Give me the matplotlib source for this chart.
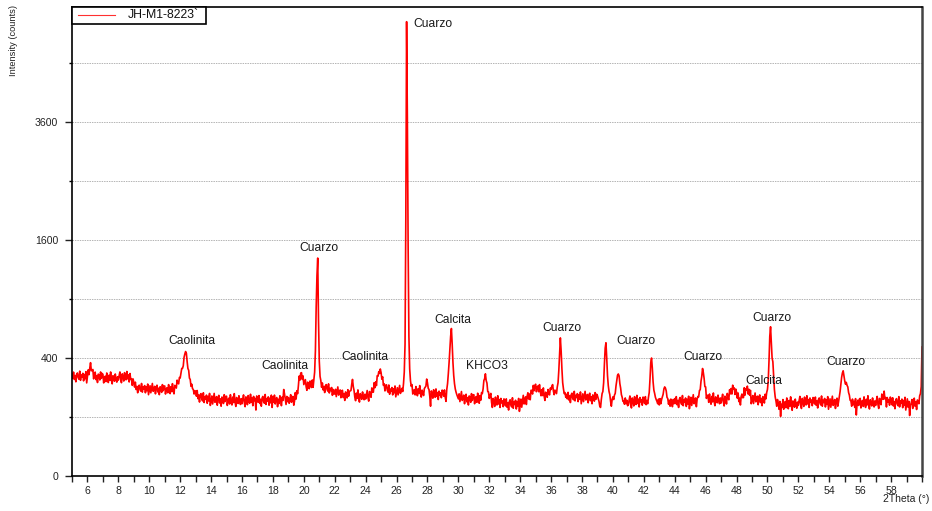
import numpy as np
import matplotlib
matplotlib.use("Agg")
import matplotlib.pyplot as plt
from matplotlib.lines import Line2D
from matplotlib.patches import Rectangle
from matplotlib.ticker import FixedLocator, MultipleLocator

plt.rcParams['font.family'] = ['Liberation Sans', 'DejaVu Sans']

# Diffractogram: counts sampled every 0.05 deg 2Theta starting at 5.00 deg
start_2theta = 5.0
step_2theta = 0.05
counts = [
    299, 274, 310, 268, 290, 255, 297, 305, 278, 269, 316, 263, 293, 281, 303, 260, 296, 272, 313, 249,  # 5
    287, 324, 295, 334, 369, 318, 320, 326, 271, 302, 310, 267, 289, 251, 298, 292, 265, 311, 274, 302,  # 6
    297, 249, 277, 286, 256, 305, 269, 251, 292, 263, 311, 265, 244, 289, 276, 258, 299, 270, 253, 283,  # 7
    264, 289, 311, 269, 250, 300, 286, 259, 307, 275, 266, 314, 271, 294, 254, 302, 268, 272, 236, 271,  # 8
    252, 227, 253, 215, 230, 199, 232, 237, 214, 207, 246, 202, 227, 217, 235, 199, 229, 209, 243, 190,  # 9
    211, 234, 199, 223, 246, 206, 216, 231, 194, 226, 237, 203, 221, 190, 229, 224, 201, 240, 209, 232,  # 10
    233, 193, 217, 224, 199, 240, 210, 195, 229, 205, 245, 207, 194, 236, 231, 222, 264, 248, 244, 279,  # 11
    276, 304, 332, 333, 349, 404, 427, 445, 433, 376, 332, 321, 275, 268, 231, 242, 219, 215, 193, 209,  # 12
    207, 183, 210, 172, 188, 157, 190, 195, 170, 162, 199, 155, 180, 170, 188, 152, 182, 162, 196, 143,  # 13
    161, 184, 149, 173, 196, 156, 166, 181, 144, 176, 187, 153, 171, 140, 179, 174, 151, 190, 159, 182,  # 14
    183, 143, 167, 174, 149, 190, 160, 145, 179, 155, 195, 157, 139, 177, 166, 151, 185, 161, 147, 172,  # 15
    150, 171, 189, 154, 138, 180, 168, 146, 186, 159, 152, 192, 156, 175, 142, 182, 163, 173, 125, 184,  # 16
    177, 156, 186, 151, 169, 140, 175, 182, 159, 152, 191, 147, 172, 162, 180, 144, 174, 154, 188, 135,  # 17
    180, 157, 188, 149, 172, 177, 138, 169, 151, 185, 174, 142, 179, 164, 215, 194, 171, 147, 182, 159,  # 18
    177, 152, 166, 190, 156, 171, 182, 144, 162, 200, 170, 209, 195, 235, 287, 264, 304, 307, 268, 288,  # 19
    240, 254, 267, 229, 211, 253, 241, 219, 259, 232, 225, 265, 226, 265, 310, 450, 820, 1150, 1365, 700,  # 20
    380, 285, 262, 226, 249, 213, 230, 200, 234, 240, 216, 207, 244, 198, 221, 209, 225, 187, 215, 194,  # 21
    193, 216, 181, 205, 228, 188, 198, 213, 176, 208, 211, 177, 195, 164, 203, 198, 175, 214, 183, 206,  # 22
    208, 210, 242, 268, 230, 210, 178, 163, 197, 173, 213, 175, 157, 195, 184, 169, 203, 179, 167, 192,  # 23
    170, 191, 210, 176, 161, 205, 196, 178, 223, 202, 202, 250, 224, 255, 235, 289, 286, 313, 302, 329,  # 24
    307, 269, 283, 236, 244, 208, 237, 239, 212, 202, 238, 192, 217, 207, 225, 189, 219, 199, 233, 180,  # 25
    201, 224, 189, 213, 236, 196, 206, 221, 205, 245, 310, 500, 1900, 5930, 3700, 1500, 560, 330, 262, 231,  # 26
    240, 193, 207, 214, 189, 230, 200, 185, 219, 195, 235, 197, 179, 212, 201, 186, 220, 226, 232, 270,  # 27
    250, 221, 215, 183, 140, 208, 196, 174, 214, 187, 178, 218, 182, 200, 168, 207, 188, 199, 176, 212,  # 28
    204, 183, 213, 178, 160, 215, 245, 300, 370, 460, 560, 625, 500, 370, 290, 245, 218, 202, 190, 181,  # 29
    171, 194, 159, 182, 205, 164, 173, 188, 150, 182, 192, 158, 176, 145, 184, 179, 156, 195, 164, 187,  # 30
    190, 150, 174, 181, 156, 197, 167, 152, 186, 165, 200, 195, 218, 262, 272, 300, 262, 248, 205, 203,  # 31
    173, 186, 196, 155, 135, 173, 161, 139, 179, 152, 145, 185, 149, 168, 135, 173, 154, 162, 138, 171,  # 32
    162, 141, 171, 136, 154, 125, 160, 167, 144, 137, 176, 132, 157, 147, 165, 129, 159, 139, 173, 120,  # 33
    146, 170, 136, 162, 187, 149, 162, 180, 147, 183, 199, 170, 193, 167, 211, 211, 193, 236, 209, 235,  # 34
    242, 204, 228, 233, 204, 240, 205, 185, 214, 186, 223, 183, 164, 202, 191, 178, 215, 196, 189, 222,  # 35
    215, 232, 240, 207, 190, 212, 203, 195, 228, 250, 320, 420, 548, 450, 330, 250, 218, 195, 200, 178,  # 36
    192, 171, 201, 166, 184, 155, 190, 197, 174, 167, 206, 162, 187, 177, 195, 159, 189, 169, 203, 150,  # 37
    171, 194, 159, 183, 206, 166, 176, 191, 154, 186, 197, 163, 181, 150, 189, 184, 161, 200, 169, 192,  # 38
    185, 172, 160, 140, 135, 168, 195, 205, 250, 360, 470, 510, 400, 290, 235, 205, 190, 160, 140, 168,  # 39
    180, 168, 188, 196, 233, 262, 292, 299, 288, 245, 222, 190, 178, 160, 160, 148, 175, 150, 165, 142,  # 40
    145, 166, 184, 149, 133, 175, 163, 141, 181, 154, 147, 187, 151, 170, 137, 177, 158, 168, 144, 179,  # 41
    172, 151, 181, 146, 164, 150, 178, 200, 270, 370, 400, 335, 255, 212, 196, 178, 168, 160, 150, 170,  # 42
    145, 172, 150, 168, 180, 192, 218, 228, 222, 208, 178, 172, 148, 165, 140, 170, 156, 138, 168, 150,  # 43
    172, 151, 181, 146, 164, 135, 170, 177, 154, 147, 186, 142, 167, 157, 175, 139, 169, 149, 183, 130,  # 44
    155, 178, 143, 167, 190, 150, 160, 175, 138, 170, 182, 180, 210, 214, 258, 285, 332, 308, 275, 230,  # 45
    228, 173, 187, 187, 156, 193, 163, 148, 182, 158, 198, 160, 142, 180, 169, 154, 188, 164, 150, 175,  # 46
    153, 174, 192, 157, 141, 183, 171, 149, 196, 174, 167, 214, 194, 220, 193, 237, 218, 223, 191, 217,  # 47
    202, 174, 198, 159, 174, 145, 182, 193, 176, 177, 224, 188, 219, 213, 232, 193, 216, 187, 211, 150,  # 48
    163, 186, 151, 175, 198, 158, 168, 183, 146, 178, 189, 155, 173, 142, 181, 176, 153, 192, 171, 200,  # 49
    215, 260, 380, 560, 640, 520, 400, 375, 285, 215, 180, 162, 140, 168, 150, 128, 160, 102, 148, 135,  # 50
    168, 128, 152, 159, 134, 175, 145, 130, 164, 140, 180, 142, 124, 162, 151, 136, 170, 146, 132, 157,  # 51
    143, 164, 182, 147, 131, 173, 161, 139, 179, 152, 145, 185, 149, 168, 135, 175, 156, 166, 142, 177,  # 52
    170, 149, 179, 144, 162, 133, 168, 175, 152, 145, 184, 140, 165, 155, 173, 137, 167, 147, 181, 128,  # 53
    148, 171, 136, 160, 183, 143, 153, 168, 131, 163, 174, 140, 158, 180, 205, 240, 280, 305, 318, 290,  # 54
    260, 242, 252, 236, 228, 200, 188, 165, 162, 140, 170, 146, 160, 135, 172, 107, 150, 165, 143, 170,  # 55
    173, 133, 157, 164, 139, 180, 150, 135, 169, 145, 185, 147, 129, 167, 156, 141, 175, 151, 137, 162,  # 56
    143, 164, 182, 147, 131, 173, 161, 146, 193, 172, 169, 207, 171, 177, 137, 177, 158, 168, 144, 179,  # 57
    167, 146, 176, 141, 159, 130, 165, 172, 149, 142, 181, 137, 162, 152, 170, 134, 164, 144, 178, 125,  # 58
    148, 171, 136, 160, 105, 143, 153, 168, 131, 163, 174, 140, 158, 127, 166, 161, 150, 185, 195, 230,  # 59
    478,  # 60
]

# Phase identification labels
peak_names = ["Caolinita", "Caolinita", "Cuarzo", "Caolinita", "Cuarzo", "Calcita", "KHCO3",
              "Cuarzo", "Cuarzo", "Cuarzo", "Calcita", "Cuarzo", "Cuarzo"]
peak_label_2theta = [12.77, 18.76, 20.99, 23.97, 28.38, 29.64, 31.87,
                     36.73, 41.52, 45.80, 49.78, 50.27, 55.06]
peak_label_counts = [523, 348, 1493, 407, 5869, 699, 348,
                     629, 523, 407, 259, 717, 373]

y_major_ticks = [0, 400, 1600, 3600]
y_minor_ticks = [100, 900, 2500, 4900]
sample_name = "JH-M1-8223`"

two_theta = start_2theta + step_2theta * np.arange(len(counts))

W, H = 932, 511
fig = plt.figure(figsize=(W / 100, H / 100), dpi=100)
ax = fig.add_axes([72 / W, 1 - 476 / H, 850 / W, 469 / H])


def fwd(v):
    return np.sqrt(np.clip(v, 0, None))


def inv(v):
    return np.asarray(v) ** 2


ax.set_yscale('function', functions=(fwd, inv))
ax.plot(two_theta, counts, color='#ff0000', lw=1.2)

ax.set_xlim(5, 60)
ax.set_ylim(0, 6320)

ax.yaxis.set_major_locator(FixedLocator(y_major_ticks))
ax.yaxis.set_minor_locator(FixedLocator(y_minor_ticks))
ax.set_yticklabels([str(t) for t in y_major_ticks])
ax.xaxis.set_minor_locator(MultipleLocator(1))
ax.set_xticks(np.arange(6, 59, 2))

ax.grid(axis='y', which='both', linestyle=(0, (1.5, 1.0)), color='#b4b4b4', lw=0.7)
ax.set_axisbelow(True)

ax.tick_params(axis='x', which='both', direction='out', length=4, width=1.0,
               labelsize=7.6, pad=3, colors='#222222')
ax.tick_params(axis='y', which='major', direction='out', length=5, width=1.0,
               labelsize=7.6, pad=5, colors='#222222')
ax.tick_params(axis='y', which='minor', direction='out', length=2.5, width=1.0)

for side in ['left', 'top', 'bottom']:
    ax.spines[side].set_linewidth(1.2)
    ax.spines[side].set_color('black')
ax.spines['right'].set_linewidth(1.8)
ax.spines['right'].set_color('#444444')

for name, xx, yy in zip(peak_names, peak_label_2theta, peak_label_counts):
    ax.text(xx, yy, name, ha='center', va='center', fontsize=8.7, color='#1a1a1a')

# Legend box drawn in figure pixel space, anchored to the top-left corner of the axes
px = lambda x: x / W
py = lambda y: 1 - y / H
fig.patches.append(Rectangle((px(72), py(24)), px(206) - px(72), py(7) - py(24),
                             transform=fig.transFigure, facecolor='white',
                             edgecolor='black', lw=1.2, zorder=5))
fig.lines.append(Line2D([px(78), px(115)], [py(15), py(15)], transform=fig.transFigure,
                        color='#ff3030', lw=0.8, zorder=6))
fig.text(px(128), py(15.5), sample_name, ha='left', va='center', fontsize=8.8,
         color='#111111', zorder=6)

fig.text(px(13.5), py(5), 'Intensity (counts)', rotation=90,
         ha='center', va='top', fontsize=6.7, color='#222222')
fig.text(px(906), py(499), '2Theta (°)', ha='center', va='center',
         fontsize=7.5, color='#222222')

fig.savefig('out.png', dpi=100)
